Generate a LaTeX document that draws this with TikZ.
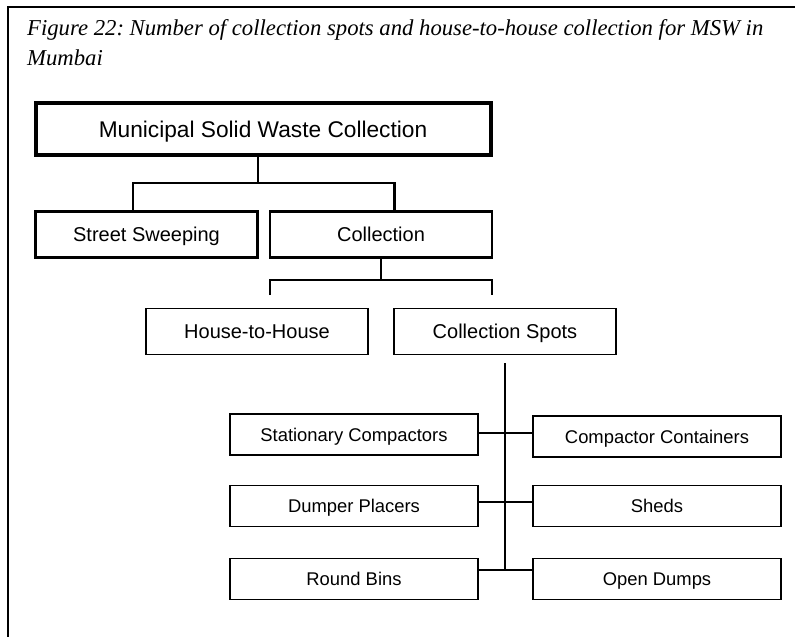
\documentclass[tikz,border=0pt]{standalone}
\usepackage{fontspec}
\setmainfont{Liberation Sans}
\newfontfamily\capfont{Liberation Serif}
\usetikzlibrary{positioning}
\frenchspacing

\begin{document}
\begin{tikzpicture}[x=1pt, y=-1pt,
    mainbox/.style={draw, line width=4pt, minimum width=455pt, minimum height=52pt, inner sep=0pt, text height=16.3pt, text depth=0pt, font=\fontsize{22.7}{26}\selectfont},
    levelbox/.style={draw, line width=2.4pt, minimum width=222pt, minimum height=46pt, inner sep=0pt, text height=14.3pt, text depth=0pt, font=\fontsize{20}{24}\selectfont},
    spotbox/.style={draw, line width=1.4pt, minimum width=222pt, minimum height=46pt, inner sep=0pt, text height=14.3pt, text depth=0pt, font=\fontsize{20}{24}\selectfont},
    typebox/.style={draw, line width=1.3pt, minimum width=248pt, minimum height=41pt, inner sep=0pt, text height=13.2pt, text depth=0pt, font=\fontsize{18.4}{22}\selectfont}]
  \useasboundingbox (0,0) rectangle (795,637);
  \draw[line width=2pt] (8,637) -- (8,7) -- (795,7);

  \node[anchor=base west, align=left, inner sep=0pt, font=\capfont\itshape\fontsize{22.7}{30}\selectfont] (caption) at (27,65)
    {Figure 22: Number of collection spots and house-to-house collection for MSW in\\Mumbai};

  \node[mainbox] (msw) at (263,129) {Municipal Solid Waste Collection};
  \node[levelbox] (sweep) at (146.5,234.5) {Street Sweeping};
  \node[levelbox] (coll) at (381,234.5) {Collection};
  \node[spotbox] (house) at (257,331.5) {House-to-House};
  \node[spotbox] (spots) at (505,331.5) {Collection Spots};

  \node[typebox] (stat) at (354,434.5) {Stationary Compactors};
  \node[typebox] (dump) at (354,506) {Dumper Placers};
  \node[typebox] (round) at (354,579) {Round Bins};
  \node[typebox] (cont) at (657,436.5) {Compactor Containers};
  \node[typebox] (sheds) at (657,506) {Sheds};
  \node[typebox] (open) at (657,579) {Open Dumps};

  % first level
  \coordinate (jl) at (133,183);
  \coordinate (jr) at (394.5,183);
  \draw[line width=2.2pt] (msw.south -| 258,0) -- (258,183);
  \draw[line width=2.2pt] (sweep.north -| jl) -- (jl) -- (jr) -- (coll.north -| jr);

  % second level
  \coordinate (kl) at (270,295);
  \coordinate (kr) at (492,295);
  \draw[line width=1.4pt] (coll.south) -- (381,280);
  \draw[line width=1.4pt] (kl) -- (270,280) -- (492,280) -- (kr);

  % collection spots
  \coordinate (top) at (505,363);
  \coordinate (bot) at (505,570);
  \draw[line width=1.3pt] (top) -- (bot);
  \draw[line width=1.3pt] (stat.east |- 0,433) -- (cont.west |- 0,433);
  \draw[line width=1.3pt] (dump.east |- 0,502) -- (sheds.west |- 0,502);
  \draw[line width=1.3pt] (round.east |- bot) -- (open.west |- bot);
\end{tikzpicture}
\end{document}
